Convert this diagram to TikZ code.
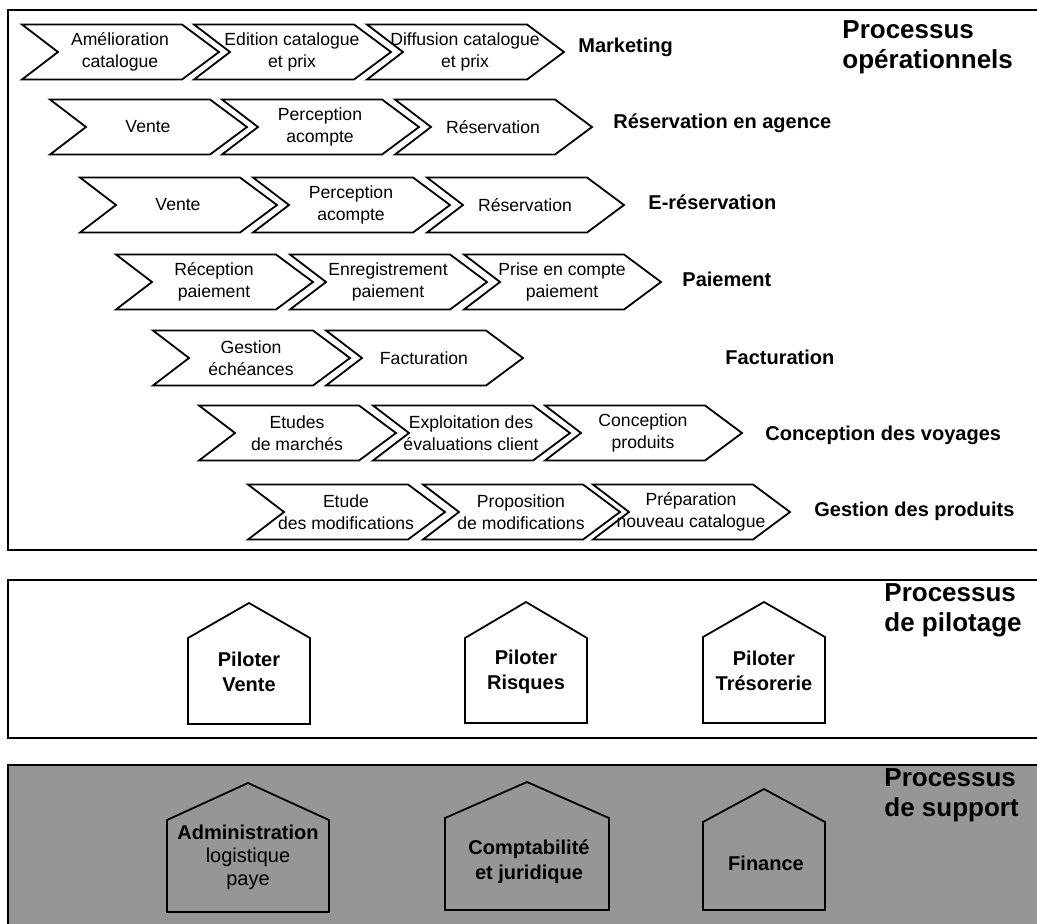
\documentclass[tikz,border=0pt]{standalone}
\usepackage{fontspec}
\setmainfont{Liberation Sans}

\definecolor{fondsupport}{RGB}{150,150,150}

\tikzset{
  cadre/.style={draw, line width=1.1pt},
  trait/.style={draw, line width=0.9pt, line join=miter},
  chevtexte/.style={align=center, font=\fontsize{8.8}{11}\selectfont, inner sep=0pt},
  etiquette/.style={anchor=west, font=\fontsize{10}{12}\selectfont\bfseries, inner sep=0pt},
  titre/.style={anchor=north west, align=left, font=\fontsize{13}{15}\selectfont\bfseries, inner sep=0pt},
  maisontexte/.style={align=center, font=\fontsize{10}{12.5}\selectfont\bfseries, inner sep=0pt},
}

% chevron : nom, x gauche, y centre, texte
\newcommand{\chev}[4]{%
  \draw[trait] (#2,#3-27.5) -- ++(160,0) -- ++(37,27.5) -- ++(-37,27.5) -- ++(-160,0) -- ++(36,-27.5) -- cycle;
  \node[chevtexte] (#1) at (#2+98,#3) {#4};
}

% maison : x centre, y faite, y gouttiere, y bas, demi-largeur
\newcommand{\maison}[5]{%
  \draw[trait] (#1,#2) -- (#1+#5,#3) -- (#1+#5,#4) -- (#1-#5,#4) -- (#1-#5,#3) -- cycle;
}

\begin{document}
\begin{tikzpicture}[x=0.5pt, y=-0.5pt]
    \useasboundingbox (0,0) rectangle (1037,923);

    % cadres
    \draw[cadre] (8,10) rectangle (1050,550);
    \draw[cadre] (8,580) rectangle (1050,738);
    \draw[cadre, fill=fondsupport] (8,765) rectangle (1050,940);

    \node[titre] (tops) at (842,20) {Processus\\op\'erationnels};
    \node[titre] (tpil) at (884,583) {Processus\\de pilotage};
    \node[titre] (tsup) at (884,768) {Processus\\de support};

    % Marketing
    \chev{m1}{22}{52}{Am\'elioration\\catalogue}
    \chev{m2}{194}{52}{Edition catalogue\\et prix}
    \chev{m3}{367}{52}{Diffusion catalogue\\et prix}
    \node[etiquette] (lm) at (578,47) {Marketing};

    % Reservation en agence
    \chev{r1}{50}{127}{Vente}
    \chev{r2}{222}{127}{Perception\\acompte}
    \chev{r3}{395}{127}{R\'eservation}
    \node[etiquette] (lr) at (613,123) {R\'eservation en agence};

    % E-reservation
    \chev{e1}{80}{205}{Vente}
    \chev{e2}{253}{205}{Perception\\acompte}
    \chev{e3}{427}{205}{R\'eservation}
    \node[etiquette] (le) at (648,202) {E-r\'eservation};

    % Paiement
    \chev{p1}{116}{282}{R\'eception\\paiement}
    \chev{p2}{290}{282}{Enregistrement\\paiement}
    \chev{p3}{464}{282}{Prise en compte\\paiement}
    \node[etiquette] (lp) at (682,279) {Paiement};

    % Facturation
    \chev{f1}{153}{358}{Gestion\\\'ech\'eances}
    \chev{f2}{326}{358}{Facturation}
    \node[etiquette] (lf) at (725,357) {Facturation};

    % Conception des voyages
    \chev{c1}{199}{433}{Etudes\\de march\'es}
    \chev{c2}{373}{433}{Exploitation des\\\'evaluations client}
    \chev{c3}{545}{433}{Conception\\produits}
    \node[etiquette] (lc) at (765,435) {Conception des voyages};

    % Gestion des produits
    \chev{g1}{248}{512}{Etude\\des modifications}
    \chev{g2}{423}{512}{Proposition\\de modifications}
    \chev{g3}{593}{512}{Pr\'eparation\\nouveau catalogue}
    \node[etiquette] (lg) at (814,511) {Gestion des produits};

    % pilotage
    \maison{249}{603}{638}{724}{61}
    \maison{526}{602}{638}{723}{61}
    \maison{764}{602}{637}{723}{61}
    \node[maisontexte] (pv) at (249,672) {Piloter\\Vente};
    \node[maisontexte] (pr) at (526,672) {Piloter\\Risques};
    \node[maisontexte] (pt) at (764,671) {Piloter\\Tr\'esorerie};

    % support
    \maison{248}{783}{820}{912}{81}
    \maison{527}{782}{818}{910}{82}
    \maison{764}{789}{822}{910}{61}
    \node[align=center, inner sep=0pt, font=\fontsize{10}{11.5}\selectfont] (sa) at (248,857) {\textbf{Administration}\\logistique\\paye};
    \node[maisontexte] (sc) at (529,862) {Comptabilit\'e\\et juridique};
    \node[maisontexte] (sf) at (766,863) {Finance};
\end{tikzpicture}
\end{document}
